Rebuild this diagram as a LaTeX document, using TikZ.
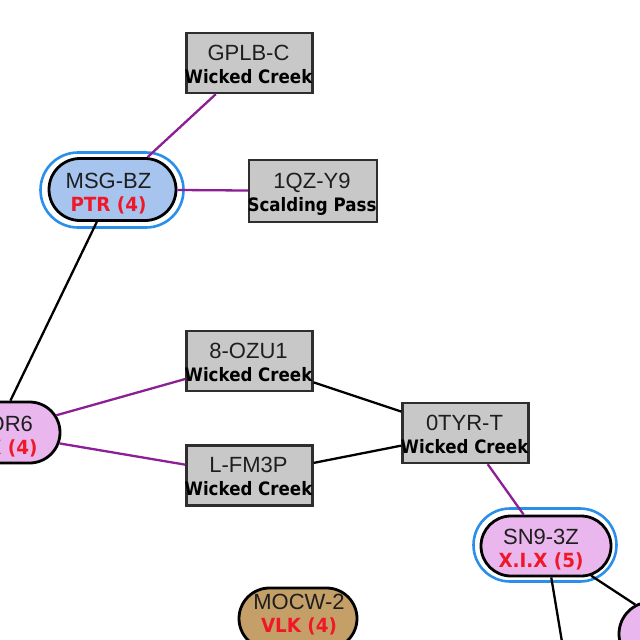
\documentclass[tikz,border=0pt]{standalone}
\usepackage{fontspec}
\usepackage{graphicx}
\setmainfont{Liberation Sans}
\newfontfamily\dvs{DejaVu Sans}
\usetikzlibrary{shapes.misc}
\definecolor{boxfill}{HTML}{C8C8C8}
\definecolor{boxedge}{HTML}{2E2E2E}
\definecolor{pinkfill}{HTML}{EAB6EE}
\definecolor{bluefill}{HTML}{A6C4EE}
\definecolor{tanfill}{HTML}{C4A068}
\definecolor{ringblue}{HTML}{2A8FEA}
\definecolor{edgepurple}{HTML}{8C1E96}
\definecolor{redtext}{HTML}{F01828}
\definecolor{nametext}{HTML}{1E1E1E}
\newcommand\nmf{\fontsize{22}{24}\selectfont\color{nametext}}
\newcommand\subf[1]{\scalebox{0.9}[1]{\dvs\bfseries\fontsize{18.5}{20}\selectfont\color{black}#1}}
\newcommand\redf[1]{\scalebox{0.94}[1]{\dvs\bfseries\fontsize{19.5}{20}\selectfont\color{redtext}#1}}
% #1 xshift, #2 raise line1, #3 raise line2, #4 font2 macro, #5 line1, #6 line2
\newcommand\twol[6]{\smash{\kern#1pt\makebox[0pt]{\raisebox{#2pt}{\nmf #5}}\makebox[0pt]{\raisebox{#3pt}{#4{#6}}}\kern-#1pt}}
\newcommand\boxtext[2]{\twol{-1}{3}{-20}{\subf}{#1}{#2}}
\newcommand\captext[3]{\twol{#1}{1.5}{-21.5}{\redf}{#2}{#3}}
\tikzset{
  sysbox/.style={draw=boxedge, line width=2.4pt, fill=boxfill, minimum width=126pt, minimum height=60pt, inner sep=0pt},
  capnode/.style={rounded rectangle, draw=black, line width=2.8pt, inner sep=0pt},
  ringnode/.style={rounded rectangle, draw=ringblue, line width=2.6pt, inner sep=0pt},
  pedge/.style={draw=edgepurple, line width=2.3pt},
  bedge/.style={draw=black, line width=2.3pt}
}
\begin{document}
\begin{tikzpicture}[x=1pt,y=-1pt]
\path[use as bounding box] (0,0) rectangle (640,640);
\clip (0,0) rectangle (640,640);
\fill[white] (0,0) rectangle (640,640);
% rings
\node[ringnode, minimum width=143pt, minimum height=75pt] (msgring) at (112,190) {};
\node[ringnode, minimum width=143pt, minimum height=73pt] (sn9ring) at (545,545) {};
% system boxes
\node[sysbox] (gplb) at (249.5,63) {\boxtext{GPLB-C}{Wicked Creek}};
\node[sysbox, minimum width=128pt, minimum height=62pt] (qzy) at (313,191) {\boxtext{1QZ-Y9}{Scalding Pass}};
\node[sysbox] (ozu) at (249.5,361) {\boxtext{8-OZU1}{Wicked Creek}};
\node[sysbox] (lfm) at (249.5,475.5) {\boxtext{L-FM3P}{Wicked Creek}};
\node[sysbox] (tyr) at (465.5,433) {\boxtext{0TYR-T}{Wicked Creek}};
% capsule nodes
\node[capnode, fill=bluefill, minimum width=127pt, minimum height=62pt] (msg) at (112.5,189.5) {\captext{-4}{MSG-BZ}{PTR (4)}};
\node[capnode, fill=pinkfill, minimum width=130pt, minimum height=61pt] (or6) at (-5,432.5) {\captext{0}{J5-OR6}{X.I.X (4)}};
\node[capnode, fill=pinkfill, minimum width=130pt, minimum height=60pt] (sn9) at (546,546) {\captext{-5}{SN9-3Z}{X.I.X (5)}};
\node[capnode, fill=tanfill, minimum width=118pt, minimum height=61pt] (mocw) at (298,618.5) {\twol{1}{9.5}{-13.5}{\redf}{MOCW-2}{VLK (4)}};
\node[capnode, fill=pinkfill, minimum width=122pt, minimum height=64pt] (pnk) at (680,634) {\captext{0}{K-3XZ2}{X.I.X (5)}};
\coordinate (bot) at (575,720);
% connectors
\draw[pedge] (gplb) -- (msg);
\draw[pedge] (msg) -- (qzy);
\draw[bedge] (msg) -- (or6);
\draw[pedge] (or6) -- (ozu);
\draw[pedge] (or6) -- (lfm);
\draw[bedge] (ozu) -- (tyr);
\draw[bedge] (lfm) -- (tyr);
\draw[pedge] (tyr) -- (sn9);
\draw[bedge] (sn9) -- (bot);
\draw[bedge] (sn9) -- (pnk);
\end{tikzpicture}
\end{document}
